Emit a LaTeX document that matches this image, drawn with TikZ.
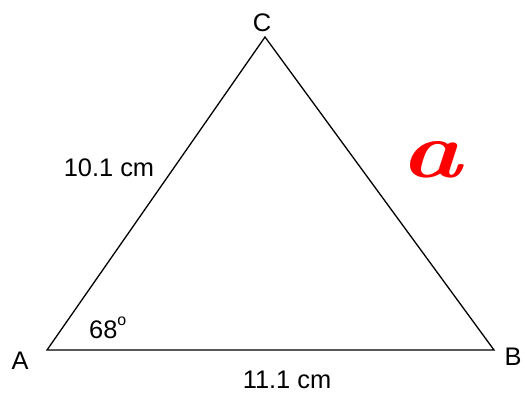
\documentclass[tikz,border=0pt]{standalone}
\usepackage{fontspec}
\usepackage{graphicx}
\setmainfont{Liberation Sans}
\newfontfamily\handfont{Latin Modern Roman}
\begin{document}
\begin{tikzpicture}[x=1bp,y=-1bp,
  lbl/.style={font=\fontsize{25.5}{30}\selectfont, inner sep=0pt, text=black},
  side/.style={draw=black, line width=1.3bp, line join=miter}]
\useasboundingbox (0,0) rectangle (525,396);
\fill[white] (0,0) rectangle (525,396);
\coordinate (A) at (47,350);
\coordinate (B) at (494,350);
\coordinate (C) at (265,37);
\draw[side] (A) -- (B) -- (C) -- cycle;
\node[lbl] (lA) at (20,361) {A};
\node[lbl] (lB) at (513,357) {B};
\node[lbl] (lC) at (262,23) {C};
\node[lbl] (s1) at (109,168) {10.1 cm};
\node[lbl] (s2) at (287,380) {11.1 cm};
\node[lbl, anchor=west] (ang) at (89,328) {68\raisebox{0.5em}{\fontsize{16}{18}\selectfont o}};
\node[inner sep=0pt, text=red, font=\handfont\fontsize{80}{80}\selectfont\itshape\bfseries] (ra) at (431,160) {\scalebox{1.3}[1]{a}};
\end{tikzpicture}
\end{document}
